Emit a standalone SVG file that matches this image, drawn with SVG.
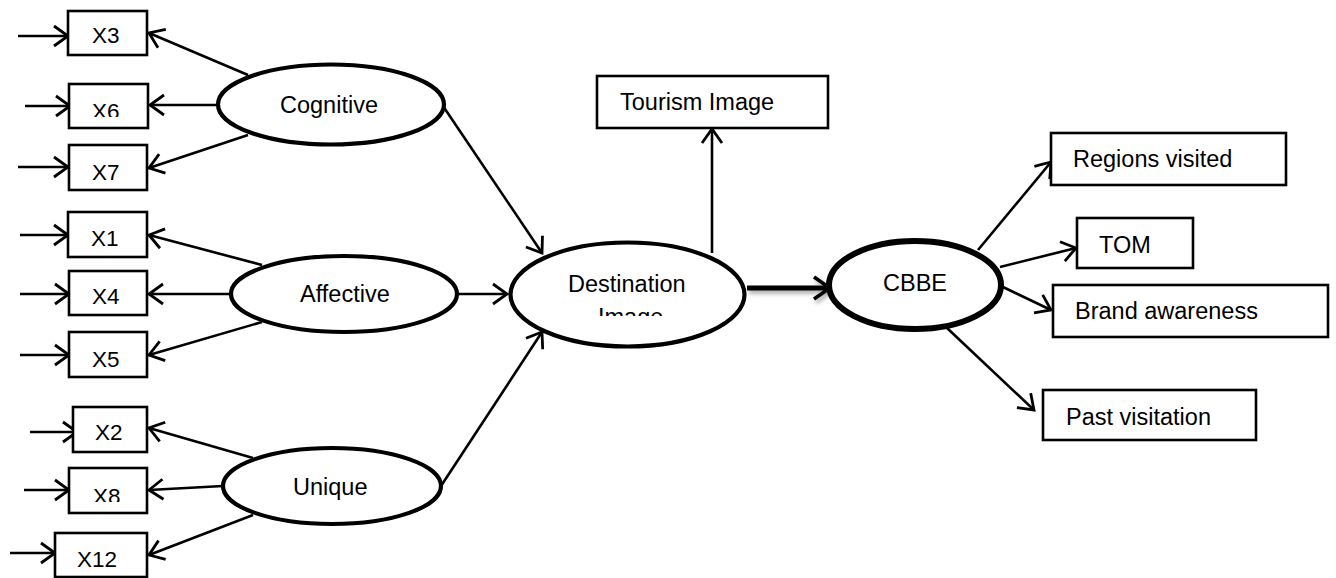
<svg xmlns="http://www.w3.org/2000/svg" width="1336" height="578" viewBox="0 0 1336 578">
<style>
text{font-family:"Liberation Sans",Arial,sans-serif;font-size:23.5px;fill:#000}
.x{font-size:22.5px}
.box{fill:#fff;stroke:#000;stroke-width:2.6}
.ell{fill:#fff;stroke:#000;stroke-width:4.2}
.con{stroke:#000;stroke-width:2.6;fill:none;marker-end:url(#ah)}
</style>
<defs>
<marker id="ah" markerUnits="userSpaceOnUse" markerWidth="20" markerHeight="24" viewBox="0 0 20 24" refX="17" refY="12" orient="auto">
<path d="M3,2 L17,12 L3,22" fill="none" stroke="#000" stroke-width="2.8"/>
</marker>
<marker id="ah2" markerUnits="userSpaceOnUse" markerWidth="22" markerHeight="26" viewBox="0 0 22 26" refX="19" refY="13" orient="auto">
<path d="M3,2 L19,13 L3,24" fill="none" stroke="#000" stroke-width="3.6"/>
</marker>
<filter id="sh" filterUnits="userSpaceOnUse" x="730" y="260" width="120" height="60">
<feDropShadow dx="2" dy="3" stdDeviation="2" flood-color="#000" flood-opacity="0.35"/>
</filter>
<clipPath id="c6"><rect x="60" y="80" width="100" height="37"/></clipPath>
<clipPath id="c8"><rect x="60" y="465" width="100" height="37"/></clipPath>
<clipPath id="cdi"><rect x="500" y="240" width="260" height="76"/></clipPath>
</defs>

<g id="connectors">
<line class="con" x1="18" y1="36" x2="68" y2="36"/>
<line class="con" x1="25" y1="106" x2="70" y2="106"/>
<line class="con" x1="18" y1="167" x2="68" y2="167"/>
<line class="con" x1="20" y1="235" x2="68" y2="235"/>
<line class="con" x1="20" y1="294" x2="69" y2="294"/>
<line class="con" x1="20" y1="355" x2="69" y2="355"/>
<line class="con" x1="30" y1="432" x2="77" y2="432"/>
<line class="con" x1="24" y1="490" x2="69" y2="490"/>
<line class="con" x1="10" y1="553" x2="55" y2="553"/>
<line class="con" x1="248" y1="75" x2="149" y2="33"/>
<line class="con" x1="218" y1="105" x2="150" y2="105"/>
<line class="con" x1="248" y1="135" x2="149" y2="168"/>
<line class="con" x1="262" y1="265" x2="149" y2="235"/>
<line class="con" x1="231" y1="294" x2="149" y2="294"/>
<line class="con" x1="262" y1="322" x2="149" y2="355"/>
<line class="con" x1="253" y1="458" x2="149" y2="428"/>
<line class="con" x1="223" y1="486" x2="149" y2="490"/>
<line class="con" x1="253" y1="515" x2="149" y2="555"/>
<line class="con" x1="443" y1="106" x2="542" y2="253"/>
<line class="con" x1="458" y1="294" x2="507" y2="294"/>
<line class="con" x1="441" y1="486" x2="542" y2="332"/>
<line class="con" x1="712" y1="253" x2="712" y2="129"/>
<g filter="url(#sh)"><path d="M747,288 L830,288" stroke="#000" stroke-width="5" fill="none" marker-end="url(#ah2)"/></g>
<line class="con" x1="978" y1="250" x2="1051" y2="162"/>
<line class="con" x1="1000" y1="267" x2="1076" y2="248"/>
<line class="con" x1="1003" y1="287" x2="1051" y2="310"/>
<line class="con" x1="947" y1="328" x2="1034" y2="410"/>
</g>

<g id="X3"><rect class="box" x="68" y="11" width="79" height="44"/><text class="x" x="92" y="43">X3</text></g>
<g id="X6"><rect class="box" x="69" y="84" width="79" height="44"/><text class="x" x="92" y="119" clip-path="url(#c6)">X6</text></g>
<g id="X7"><rect class="box" x="69" y="145" width="78" height="45"/><text class="x" x="92" y="180">X7</text></g>
<g id="X1"><rect class="box" x="68" y="212" width="79" height="45"/><text class="x" x="91" y="246">X1</text></g>
<g id="X4"><rect class="box" x="69" y="271" width="78" height="44"/><text class="x" x="92" y="304">X4</text></g>
<g id="X5"><rect class="box" x="69" y="332" width="78" height="45"/><text class="x" x="92" y="367">X5</text></g>
<g id="X2"><rect class="box" x="73" y="407" width="74" height="45"/><text class="x" x="95" y="440">X2</text></g>
<g id="X8"><rect class="box" x="69" y="468" width="78" height="45"/><text class="x" x="93" y="504" clip-path="url(#c8)">X8</text></g>
<g id="X12"><rect class="box" x="55" y="533" width="92" height="44"/><text class="x" x="77" y="567">X12</text></g>

<g id="cognitive"><ellipse class="ell" cx="331" cy="104.5" rx="113" ry="40"/><text x="280" y="113">Cognitive</text></g>
<g id="affective"><ellipse class="ell" cx="344" cy="294" rx="113" ry="38"/><text x="300" y="302">Affective</text></g>
<g id="unique"><ellipse class="ell" cx="332" cy="486" rx="109" ry="38"/><text x="293" y="495">Unique</text></g>

<g id="destination"><ellipse class="ell" cx="627.5" cy="294.5" rx="117" ry="52"/>
<g clip-path="url(#cdi)"><text x="568" y="292">Destination</text><text x="598" y="325">Image</text></g></g>

<g id="tourism"><rect class="box" x="597" y="76" width="231" height="52"/><text x="620" y="110">Tourism Image</text></g>

<g id="cbbe"><ellipse cx="915" cy="285" rx="86" ry="44" fill="#fff" stroke="#000" stroke-width="6"/><text x="883" y="291">CBBE</text></g>

<g id="regions"><rect class="box" x="1051" y="133" width="235" height="52"/><text x="1073" y="167">Regions visited</text></g>
<g id="tom"><rect class="box" x="1077" y="218" width="116" height="50"/><text x="1099" y="253">TOM</text></g>
<g id="brand"><rect class="box" x="1053" y="285" width="275" height="52"/><text x="1075" y="319">Brand awareness</text></g>
<g id="past"><rect class="box" x="1043" y="390" width="213" height="50"/><text x="1066" y="425">Past visitation</text></g>
</svg>
